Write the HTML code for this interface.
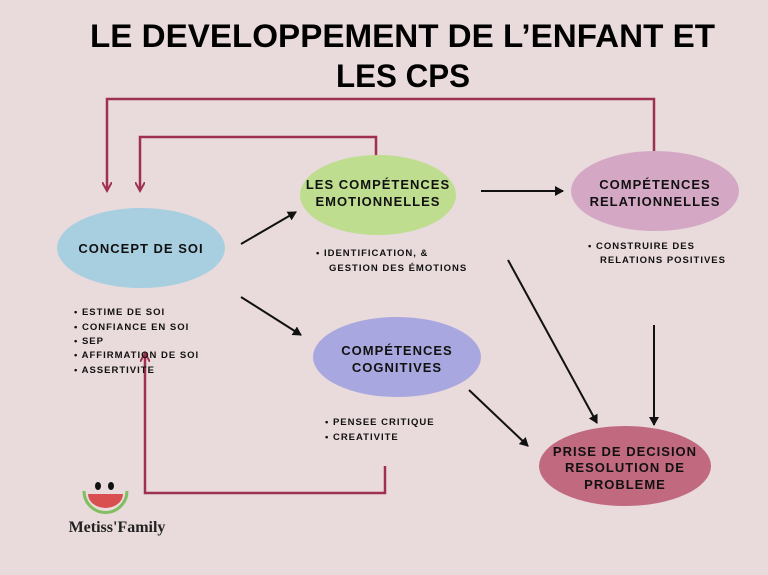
<!DOCTYPE html>
<html><head><meta charset="utf-8"><style>
body{margin:0;background:#e9dadb;}
svg{display:block;}
text{font-family:"Liberation Sans",sans-serif;font-weight:bold;}
</style></head><body>
<svg width="768" height="575" viewBox="0 0 768 575" xmlns="http://www.w3.org/2000/svg">
<defs>
<marker id="b" markerWidth="10" markerHeight="10" refX="8" refY="5" orient="auto" markerUnits="userSpaceOnUse"><path d="M0,0 L9,5 L0,10 Z" fill="#111"/></marker>
<marker id="r" markerWidth="12" markerHeight="10" refX="9" refY="5" orient="auto" markerUnits="userSpaceOnUse"><path d="M0,0 L9,5 L0,10" fill="none" stroke="#a0304f" stroke-width="2"/></marker>
</defs>
<rect width="768" height="575" fill="#e9dadb"/>
<text x="90" y="47" font-size="32" textLength="625" lengthAdjust="spacingAndGlyphs" fill="#000">LE DEVELOPPEMENT DE L’ENFANT ET</text>
<text x="336" y="87" font-size="32" textLength="134" lengthAdjust="spacingAndGlyphs" fill="#000">LES CPS</text>
<g fill="none" stroke="#a0304f" stroke-width="2.5">
<path d="M654,152 V99 H107 V191" marker-end="url(#r)"/>
<path d="M376,156 V137 H140 V191" marker-end="url(#r)"/>
<path d="M385,466 V493 H145 V353" marker-end="url(#r)"/>
</g>
<ellipse cx="141" cy="248" rx="84" ry="40" fill="#a8cfe0"/>
<ellipse cx="378" cy="195" rx="78" ry="40" fill="#bedd8f"/>
<ellipse cx="655" cy="191" rx="84" ry="40" fill="#d4a8c4"/>
<ellipse cx="397" cy="357" rx="84" ry="40" fill="#a9a7df"/>
<ellipse cx="625" cy="466" rx="86" ry="40" fill="#c0697f"/>
<g stroke="#111" stroke-width="2" fill="none">
<line x1="241" y1="244" x2="296" y2="212" marker-end="url(#b)"/>
<line x1="241" y1="297" x2="301" y2="335" marker-end="url(#b)"/>
<line x1="481" y1="191" x2="563" y2="191" marker-end="url(#b)"/>
<line x1="508" y1="260" x2="597" y2="423" marker-end="url(#b)"/>
<line x1="654" y1="325" x2="654" y2="425" marker-end="url(#b)"/>
<line x1="469" y1="390" x2="528" y2="446" marker-end="url(#b)"/>
</g>
<g font-size="13" text-anchor="middle" fill="#111" letter-spacing="1">
<text x="141" y="253">CONCEPT DE SOI</text>
<text x="378" y="189">LES COMPÉTENCES</text>
<text x="378" y="206">EMOTIONNELLES</text>
<text x="655" y="189">COMPÉTENCES</text>
<text x="655" y="206">RELATIONNELLES</text>
<text x="397" y="355">COMPÉTENCES</text>
<text x="397" y="372">COGNITIVES</text>
<text x="625" y="456">PRISE DE DECISION</text>
<text x="625" y="472">RESOLUTION DE</text>
<text x="625" y="489">PROBLEME</text>
</g>
<g font-size="9.5" fill="#111" letter-spacing="1">
<text x="74" y="315">•  ESTIME DE SOI</text>
<text x="74" y="330">•  CONFIANCE EN SOI</text>
<text x="74" y="344">•  SEP</text>
<text x="74" y="358">•  AFFIRMATION DE SOI</text>
<text x="74" y="373">•  ASSERTIVITE</text>
<text x="316" y="256">•  IDENTIFICATION, &amp;</text>
<text x="329" y="271">GESTION DES ÉMOTIONS</text>
<text x="588" y="249">•  CONSTRUIRE DES</text>
<text x="600" y="263">RELATIONS POSITIVES</text>
<text x="325" y="425">•  PENSEE CRITIQUE</text>
<text x="325" y="440">•  CREATIVITE</text>
</g>
<g>
<path d="M84,491 A21,21 0 0 0 127,491" fill="none" stroke="#7fbf5f" stroke-width="3"/>
<path d="M88,494 H123 A17.5,14 0 0 1 88,494 Z" fill="#d94f4f"/>
<ellipse cx="98" cy="486" rx="3" ry="4" fill="#111"/>
<ellipse cx="111" cy="486" rx="3" ry="4" fill="#111"/>
<text x="117" y="532" font-size="16" text-anchor="middle" fill="#222" style="font-family:'Liberation Serif',serif;font-weight:bold">Metiss'Family</text>
</g>
</svg>
</body></html>
